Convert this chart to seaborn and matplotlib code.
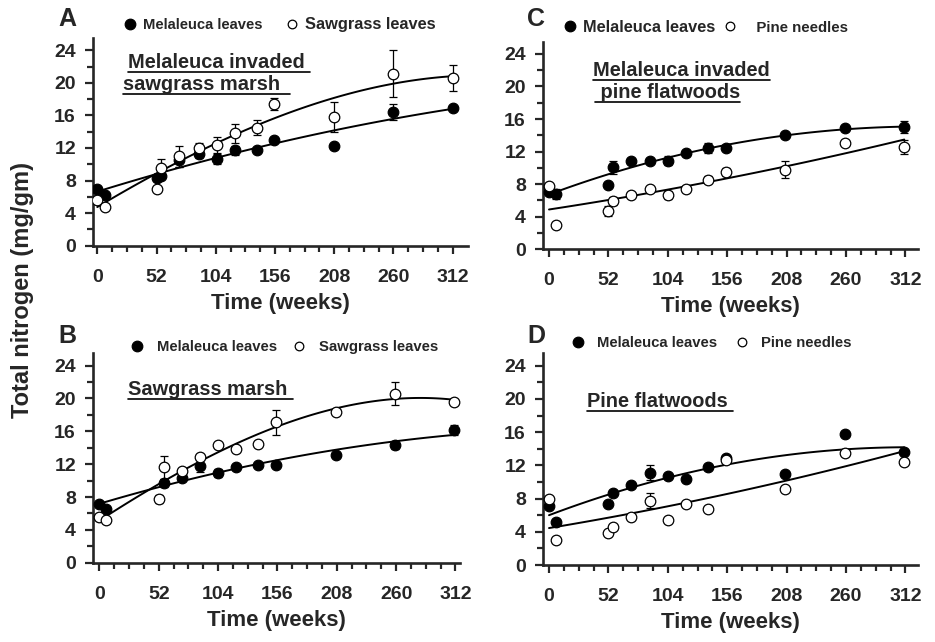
import matplotlib
matplotlib.use("Agg")
import matplotlib.pyplot as plt
import matplotlib.transforms as mtransforms
from matplotlib.lines import Line2D
import seaborn as sns
import pandas as pd

# ---- data (weeks, mg N / g) ----
weeks = [0, 7, 52, 56, 72, 89, 105, 121, 140, 155, 208, 260, 312]

# A - Melaleuca invaded sawgrass marsh
A_mel = [7.0, 6.2, 8.3, 8.6, 10.5, 11.2, 10.6, 11.7, 11.8, 13.0, 12.2, 16.4, 16.9]
A_mel_err = [0.3, 0.3, 0.3, 0.3, 0.8, 0.4, 0.6, 0.6, 0.3, 0.3, 0.3, 1.0, 0.3]
A_saw = [5.6, 4.8, 7.0, 9.5, 11.0, 12.0, 12.4, 13.8, 14.5, 17.4, 15.8, 21.1, 20.6]
A_saw_err = [0.3, 0.3, 0.3, 1.1, 1.3, 0.6, 1.0, 1.2, 0.9, 0.75, 1.9, 2.9, 1.55]

# B - Sawgrass marsh
B_weeks_mel = [0, 6, 57, 72, 88, 104, 120, 139, 155, 207, 259, 311]
B_mel = [7.1, 6.6, 9.7, 10.3, 11.75, 10.9, 11.6, 11.9, 11.9, 13.1, 14.3, 16.2]
B_mel_err = [0.3, 0.3, 0.5, 0.3, 0.7, 0.5, 0.3, 0.3, 0.3, 0.3, 0.5, 0.6]
B_weeks_saw = [0, 6, 52, 57, 72, 88, 104, 120, 139, 155, 207, 259, 311]
B_saw = [5.55, 5.15, 7.75, 11.65, 11.2, 12.9, 14.3, 13.8, 14.5, 17.1, 18.4, 20.6, 19.6]
B_saw_err = [0.3, 0.3, 0.5, 1.4, 0.3, 0.3, 0.3, 0.3, 0.3, 1.5, 0.3, 1.4, 0.3]

# C - Melaleuca invaded pine flatwoods
C_weeks = [0, 6, 52, 56, 72, 88, 104, 120, 139, 155, 207, 259, 311]
C_mel = [7.0, 6.8, 7.9, 10.1, 10.9, 10.9, 10.9, 11.8, 12.45, 12.5, 14.0, 14.9, 15.0]
C_mel_err = [0.3, 0.6, 0.3, 0.8, 0.3, 0.3, 0.5, 0.4, 0.65, 0.3, 0.3, 0.3, 0.7]
C_pine = [7.75, 3.0, 4.7, 5.9, 6.7, 7.4, 6.65, 7.4, 8.55, 9.5, 9.8, 13.1, 12.6]
C_pine_err = [0.3, 0.3, 0.6, 0.5, 0.3, 0.3, 0.5, 0.4, 0.4, 0.5, 1.0, 0.3, 0.85]

# D - Pine flatwoods
D_mel = [7.15, 5.2, 7.35, 8.7, 9.65, 11.1, 10.7, 10.4, 11.75, 12.85, 11.0, 15.8, 13.65]
D_mel_err = [0.3, 0.3, 0.3, 0.3, 0.3, 0.9, 0.3, 0.3, 0.3, 0.3, 0.3, 0.3, 0.3]
D_pine = [7.95, 3.05, 3.8, 4.6, 5.8, 7.75, 5.4, 7.35, 6.8, 12.6, 9.2, 13.55, 12.45]
D_pine_err = [0.3, 0.3, 0.3, 0.3, 0.3, 0.9, 0.3, 0.3, 0.3, 0.3, 0.3, 0.3, 0.3]

sns.set_style("ticks")
plt.rcParams['font.family'] = ['Liberation Sans', 'DejaVu Sans']
plt.rcParams['font.weight'] = 'bold'

fig = plt.figure(figsize=(9.35, 6.42), dpi=100)
W, H = 935.0, 642.0


def px_axes(left, top, right, bottom):
    return fig.add_axes([left / W, 1 - bottom / H, (right - left) / W, (bottom - top) / H])


def draw_series(ax, x, y, err, filled, z, order):
    df = pd.DataFrame({"week": x, "N": y})
    ax.errorbar(x, y, yerr=err, fmt='none', ecolor='black', elinewidth=0.9,
                capsize=3, capthick=0.9, zorder=z - 1)
    # fitted curve
    sns.regplot(data=df, x="week", y="N", order=order, ci=None, scatter=False,
                color='black', line_kws={'lw': 1.4, 'zorder': 1}, ax=ax)
    sns.scatterplot(data=df, x="week", y="N", s=58, marker='o',
                    color='black' if filled else 'white', edgecolor='black',
                    linewidth=0.9, zorder=z, ax=ax)


def style_axes(ax, xlim):
    ax.set_xlim(*xlim)
    ax.set_ylim(0, 25.5)
    ax.set_xticks(range(0, 313, 52))
    ax.set_xticks(range(0, 313, 13), minor=True)
    ax.set_yticks(range(0, 25, 4))
    ax.set_yticks(range(0, 25, 2), minor=True)
    for s in ['top', 'right']:
        ax.spines[s].set_visible(False)
    for s in ['left', 'bottom']:
        ax.spines[s].set_linewidth(1.9)
    ax.tick_params(which='major', direction='out', length=5.5, width=1.6,
                   labelsize=14, pad=7)
    ax.tick_params(axis='x', which='major', pad=11)
    ax.tick_params(which='minor', direction='out', length=4.5, width=1.6)
    for lab in ax.get_xticklabels() + ax.get_yticklabels():
        lab.set_fontweight('bold')
    ax.set_xlabel("Time (weeks)", fontsize=16, fontweight='bold', labelpad=5)
    ax.set_ylabel("")


def underlined(ax, x, y, s, fs, extra=0):
    t = ax.text(x, y, s, transform=ax.transAxes, fontsize=fs, fontweight='bold',
                ha='left', va='baseline')
    fig.canvas.draw()
    bb = t.get_window_extent()
    x0 = ax.transAxes.inverted().transform((bb.x0, 0))[0]
    x1 = ax.transAxes.inverted().transform((bb.x1 + extra, 0))[0]
    tr = mtransforms.offset_copy(ax.transAxes, fig=fig, y=-4, units='dots')
    ax.plot([x0, x1], [y, y], transform=tr, color='black', lw=1.2,
            clip_on=False)


def key(ax, names, x, y, fs, fs2, pad, colsp):
    hs = [Line2D([], [], ls='none', marker='o', ms=7.6, mfc='black', mec='black', mew=0.9),
          Line2D([], [], ls='none', marker='o', ms=6.2, mfc='white', mec='black', mew=0.9)]
    leg = ax.legend(hs, names, ncol=2, loc='center left', bbox_to_anchor=(x, y),
                    frameon=False, handlelength=0.8, handletextpad=pad,
                    columnspacing=colsp, borderpad=0, borderaxespad=0,
                    prop={'weight': 'bold', 'size': fs})
    leg.get_texts()[1].set_fontsize(fs2)


# panel A
axA = px_axes(93.3, 38, 468, 245.7)
draw_series(axA, weeks, A_mel, A_mel_err, True, 4, 2)
draw_series(axA, weeks, A_saw, A_saw_err, False, 5, 3)
style_axes(axA, (-3.5, 325.5))
key(axA, ["Melaleuca leaves", "Sawgrass leaves"], 0.0822, 1.066, 10.6, 11.8, 0.48, 1.64)
underlined(axA, 0.0926, 0.8556, "Melaleuca invaded", 14.4, 5)
underlined(axA, 0.079, 0.7496, "sawgrass marsh", 14.4, 10)

# panel B
axB = px_axes(93.3, 353.3, 460, 562.7)
draw_series(axB, B_weeks_mel, B_mel, B_mel_err, True, 4, 2)
draw_series(axB, B_weeks_saw, B_saw, B_saw_err, False, 5, 3)
style_axes(axB, (-5.3, 316))
key(axB, ["Melaleuca leaves", "Sawgrass leaves"], 0.1036, 1.0315, 10.7, 10.7, 0.93, 1.07)
underlined(axB, 0.0949, 0.801, "Sawgrass marsh", 14.4, 6)

# panel C
axC = px_axes(543.3, 41.7, 918, 249.3)
draw_series(axC, C_weeks, C_mel, C_mel_err, True, 4, 3)
draw_series(axC, C_weeks, C_pine, C_pine_err, False, 5, 2)
style_axes(axC, (-5, 323))
key(axC, ["Melaleuca leaves", "   Pine needles"], 0.0537, 1.07, 11.8, 10.8, 0.41, 0.51)
underlined(axC, 0.1326, 0.835, "Melaleuca invaded", 14.4, 0)
underlined(axC, 0.138, 0.727, " pine flatwoods", 14.4, 0)

# panel D
axD = px_axes(543.3, 353.3, 918, 565)
draw_series(axD, C_weeks, D_mel, D_mel_err, True, 4, 2)
draw_series(axD, C_weeks, D_pine, D_pine_err, False, 5, 2)
style_axes(axD, (-5, 323))
key(axD, ["Melaleuca leaves", "Pine needles"], 0.0766, 1.05, 10.7, 10.7, 0.88, 1.28)
underlined(axD, 0.1174, 0.745, "Pine flatwoods", 14.4, 5)

# panel letters and shared y label
for letter, xp, yp in [("A", 58, 26), ("B", 58, 343), ("C", 527, 26), ("D", 527, 343)]:
    fig.text(xp / W, 1 - yp / H, letter, fontsize=18, fontweight='bold',
             ha='left', va='baseline')
fig.text(23 / W, 1 - 290 / H, "Total nitrogen (mg/gm)", rotation=90,
         fontsize=17, fontweight='bold', ha='center', va='center')

fig.savefig("out.png", dpi=100)
